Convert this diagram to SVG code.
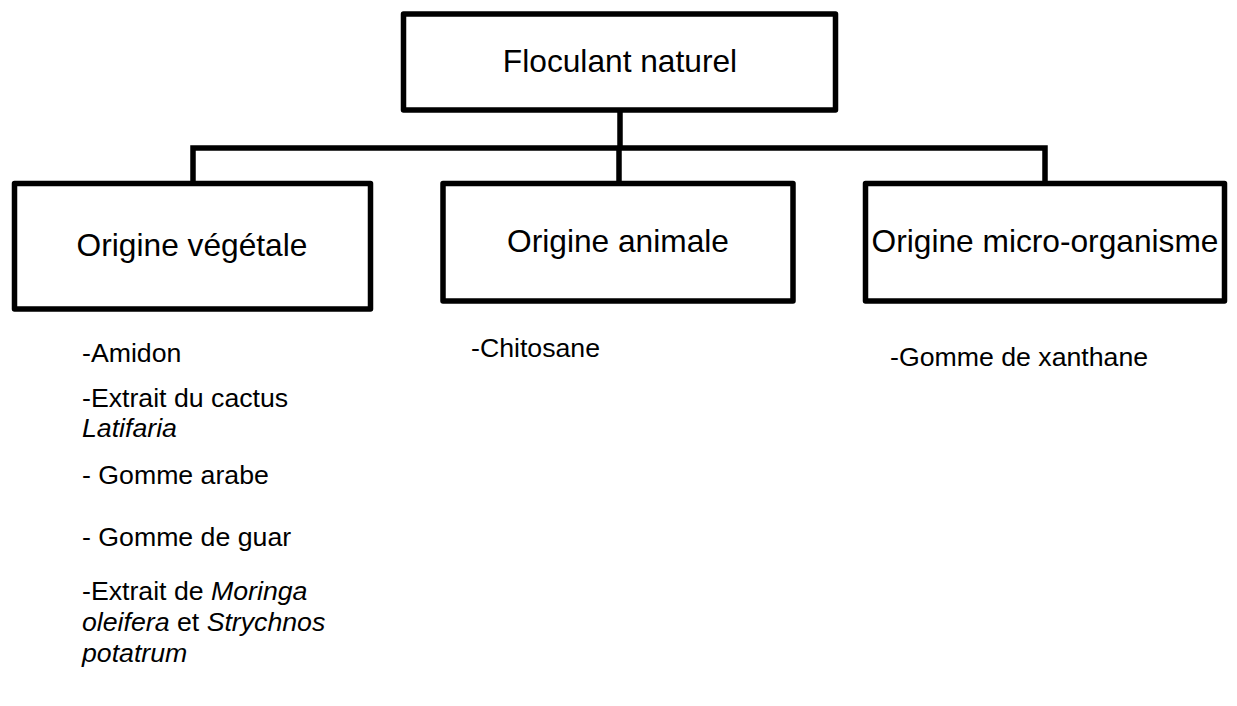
<svg xmlns="http://www.w3.org/2000/svg" width="1237" height="706" viewBox="0 0 1237 706">
<style>
.box{fill:#fff;stroke:#000;stroke-width:5.5;stroke-linejoin:round}
.con{fill:none;stroke:#000;stroke-width:5.5}
.lbl{font-family:"Liberation Sans",Arial,sans-serif;font-size:31.7px;fill:#000;text-anchor:middle}
.lst{font-family:"Liberation Sans",Arial,sans-serif;font-size:26.7px;fill:#000}
.it{font-style:italic}
</style>
<rect width="1237" height="706" fill="#fff"/>
<g id="connectors">
<path class="con" d="M620 110V148M193 183V148H1045V183M619 148V183"/>
</g>
<g id="root">
<rect class="box" x="403.5" y="14" width="432" height="96"/>
<text class="lbl" x="620" y="72">Floculant naturel</text>
</g>
<g id="vegetale">
<rect class="box" x="14.5" y="183.5" width="356" height="125.5"/>
<text class="lbl" x="192" y="256">Origine végétale</text>
</g>
<g id="animale">
<rect class="box" x="443" y="183.5" width="350" height="117.5"/>
<text class="lbl" x="618" y="252">Origine animale</text>
</g>
<g id="micro">
<rect class="box" x="865.5" y="183.5" width="359" height="117.5"/>
<text class="lbl" x="1045" y="252">Origine micro-organisme</text>
</g>
<g id="list-vegetale" class="lst">
<text x="82" y="362">-Amidon</text>
<text x="82" y="407">-Extrait du cactus</text>
<text x="82" y="437" class="it">Latifaria</text>
<text x="82" y="484">- Gomme arabe</text>
<text x="82" y="546">- Gomme de guar</text>
<text x="82" y="600">-Extrait de <tspan class="it">Moringa</tspan></text>
<text x="82" y="631"><tspan class="it">oleifera</tspan> et <tspan class="it">Strychnos</tspan></text>
<text x="82" y="662" class="it">potatrum</text>
</g>
<g id="list-animale" class="lst">
<text x="471" y="357">-Chitosane</text>
</g>
<g id="list-micro" class="lst">
<text x="890" y="366">-Gomme de xanthane</text>
</g>
</svg>
